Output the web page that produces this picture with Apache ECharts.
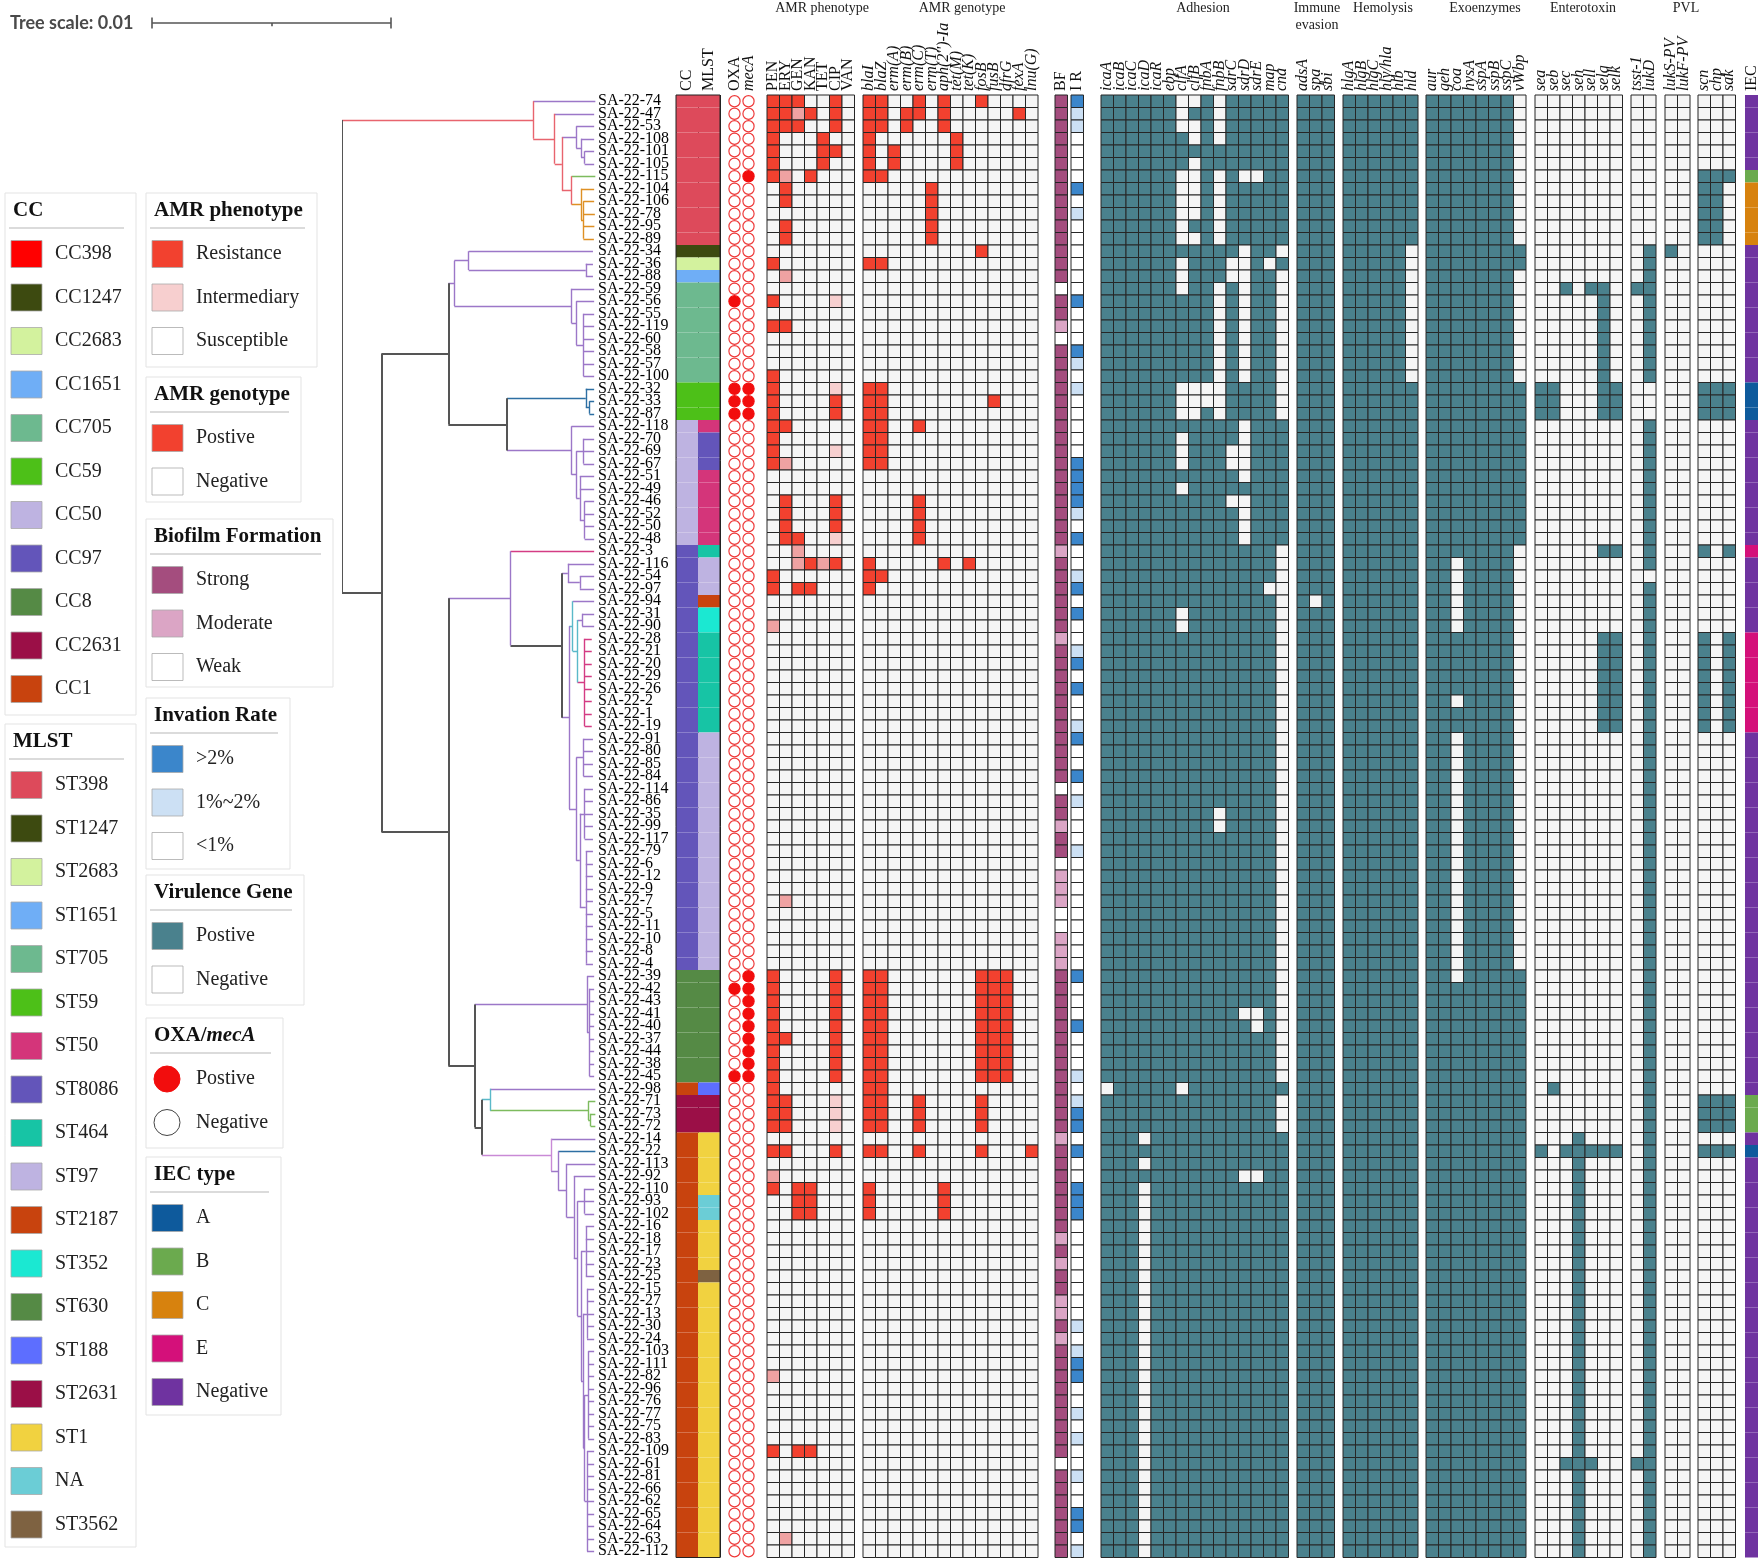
<!DOCTYPE html>
<html><head><meta charset="utf-8">
<script src="https://cdn.jsdelivr.net/npm/echarts@6.0.0/dist/echarts.min.js"></script>
<style>html,body{margin:0;padding:0;background:#fff}#c{width:1760px;height:1560px}</style>
</head><body><div id="c"></div><script>
// ---------------- DATA ----------------
const samples = [
'SA-22-74','SA-22-47','SA-22-53','SA-22-108','SA-22-101','SA-22-105','SA-22-115','SA-22-104','SA-22-106','SA-22-78',
'SA-22-95','SA-22-89','SA-22-34','SA-22-36','SA-22-88','SA-22-59','SA-22-56','SA-22-55','SA-22-119','SA-22-60',
'SA-22-58','SA-22-57','SA-22-100','SA-22-32','SA-22-33','SA-22-87','SA-22-118','SA-22-70','SA-22-69','SA-22-67',
'SA-22-51','SA-22-49','SA-22-46','SA-22-52','SA-22-50','SA-22-48','SA-22-3','SA-22-116','SA-22-54','SA-22-97',
'SA-22-94','SA-22-31','SA-22-90','SA-22-28','SA-22-21','SA-22-20','SA-22-29','SA-22-26','SA-22-2','SA-22-1',
'SA-22-19','SA-22-91','SA-22-80','SA-22-85','SA-22-84','SA-22-114','SA-22-86','SA-22-35','SA-22-99','SA-22-117',
'SA-22-79','SA-22-6','SA-22-12','SA-22-9','SA-22-7','SA-22-5','SA-22-11','SA-22-10','SA-22-8','SA-22-4',
'SA-22-39','SA-22-42','SA-22-43','SA-22-41','SA-22-40','SA-22-37','SA-22-44','SA-22-38','SA-22-45','SA-22-98',
'SA-22-71','SA-22-73','SA-22-72','SA-22-14','SA-22-22','SA-22-113','SA-22-92','SA-22-110','SA-22-93','SA-22-102',
'SA-22-16','SA-22-18','SA-22-17','SA-22-23','SA-22-25','SA-22-15','SA-22-27','SA-22-13','SA-22-30','SA-22-24',
'SA-22-103','SA-22-111','SA-22-82','SA-22-96','SA-22-76','SA-22-77','SA-22-75','SA-22-83','SA-22-109','SA-22-61',
'SA-22-81','SA-22-66','SA-22-62','SA-22-65','SA-22-64','SA-22-63','SA-22-112'];

const ccType = [
'CC398','CC398','CC398','CC398','CC398','CC398','CC398','CC398','CC398','CC398',
'CC398','CC398','CC1247','CC2683','CC1651','CC705','CC705','CC705','CC705','CC705',
'CC705','CC705','CC705','CC59','CC59','CC59','CC50','CC50','CC50','CC50',
'CC50','CC50','CC50','CC50','CC50','CC50','CC97','CC97','CC97','CC97',
'CC97','CC97','CC97','CC97','CC97','CC97','CC97','CC97','CC97','CC97',
'CC97','CC97','CC97','CC97','CC97','CC97','CC97','CC97','CC97','CC97',
'CC97','CC97','CC97','CC97','CC97','CC97','CC97','CC97','CC97','CC97',
'CC8','CC8','CC8','CC8','CC8','CC8','CC8','CC8','CC8','CC1',
'CC2631','CC2631','CC2631','CC1','CC1','CC1','CC1','CC1','CC1','CC1',
'CC1','CC1','CC1','CC1','CC1','CC1','CC1','CC1','CC1','CC1',
'CC1','CC1','CC1','CC1','CC1','CC1','CC1','CC1','CC1','CC1',
'CC1','CC1','CC1','CC1','CC1','CC1','CC1'];

const mlstType = [
'ST398','ST398','ST398','ST398','ST398','ST398','ST398','ST398','ST398','ST398',
'ST398','ST398','ST1247','ST2683','ST1651','ST705','ST705','ST705','ST705','ST705',
'ST705','ST705','ST705','ST59','ST59','ST59','ST50','ST8086','ST8086','ST8086',
'ST50','ST50','ST50','ST50','ST50','ST50','ST464','ST97','ST97','ST97',
'ST2187','ST352','ST352','ST464','ST464','ST464','ST464','ST464','ST464','ST464',
'ST464','ST97','ST97','ST97','ST97','ST97','ST97','ST97','ST97','ST97',
'ST97','ST97','ST97','ST97','ST97','ST97','ST97','ST97','ST97','ST97',
'ST630','ST630','ST630','ST630','ST630','ST630','ST630','ST630','ST630','ST188',
'ST2631','ST2631','ST2631','ST1','ST1','ST1','ST1','ST1','NA','NA',
'ST1','ST1','ST1','ST1','ST3562','ST1','ST1','ST1','ST1','ST1',
'ST1','ST1','ST1','ST1','ST1','ST1','ST1','ST1','ST1','ST1',
'ST1','ST1','ST1','ST1','ST1','ST1','ST1'];

const oxaPositive = ['SA-22-56','SA-22-32','SA-22-33','SA-22-87','SA-22-42','SA-22-45'];
const mecAPositive = ['SA-22-115','SA-22-32','SA-22-33','SA-22-87','SA-22-39','SA-22-42','SA-22-43','SA-22-41','SA-22-40','SA-22-37','SA-22-44','SA-22-38','SA-22-45'];

// AMR phenotype: 2 = resistance, 1 = intermediary, 0 = susceptible
const phenoCols = ['PEN','ERY','GEN','KAN','TET','CIP','VAN'];
const phenotype = [
'2220020','2212020','2220020','2000200','2000220','2000200','2102000','0200000','0200000','0000000',
'0200000','0200000','0000000','2000000','0100000','0000000','2000010','0000000','2200000','0000000',
'0000000','0000000','2000000','2000010','2000020','2000020','2200000','2000000','2000010','2100000',
'0000000','0000000','0200020','0200020','0200020','0220010','0010000','0012120','2000000','2022000',
'0000000','0000000','1000000','0000000','0000000','0000000','0000000','0000000','0000000','0000000',
'0000000','0000000','0000000','0000000','0000000','0000000','0000000','0000000','0000000','0000000',
'0000000','0000000','0000000','0000000','0100000','0000000','0000000','0000000','0000000','0000000',
'2000020','2000020','2000020','2000020','2000020','2200020','2000020','2000020','2000020','2000000',
'2200010','2200010','2200010','0000000','2200020','0000000','1000000','2022000','0022000','0022000',
'0000000','0000000','0000000','0000000','0000000','0000000','0000000','0000000','0000000','0000000',
'0000000','0000000','1000000','0000000','0000000','0000000','0000000','0000000','2022000','0000000',
'0000000','0000000','0000000','0000000','0000000','0100000','0000000'];

const genoCols = ['blaI','blaZ','erm(A)','erm(B)','erm(C)','erm(T)',"aph(2'')-Ia",'tet(M)','tet(K)','fosB','fusB','dfrG','fexA','lnu(G)'];
const genotype = [
'11001010010000','11011010000010','11010010000000','10000001000000','10100001000000','10100001000000','11000000000000','00000100000000','00000100000000','00000100000000',
'00000100000000','00000100000000','00000000010000','11000000000000','00000000000000','00000000000000','00000000000000','00000000000000','00000000000000','00000000000000',
'00000000000000','00000000000000','00000000000000','11000000000000','11000000001000','11000000000000','11001000000000','11000000000000','11000000000000','11000000000000',
'00000000000000','00000000000000','00001000000000','00001000000000','00001000000000','00001000000000','00000000000000','10000010100000','11000000000000','10000000000000',
'00000000000000','00000000000000','00000000000000','00000000000000','00000000000000','00000000000000','00000000000000','00000000000000','00000000000000','00000000000000',
'00000000000000','00000000000000','00000000000000','00000000000000','00000000000000','00000000000000','00000000000000','00000000000000','00000000000000','00000000000000',
'00000000000000','00000000000000','00000000000000','00000000000000','00000000000000','00000000000000','00000000000000','00000000000000','00000000000000','00000000000000',
'11000000011100','11000000011100','11000000011100','11000000011100','11000000011100','11000000011100','11000000011100','11000000011100','11000000011100','11000000000000',
'11001000010000','11001000010000','11001000010000','00000000000000','11001000010001','00000000000000','00000000000000','10000010000000','10000010000000','10000010000000',
'00000000000000','00000000000000','00000000000000','00000000000000','00000000000000','00000000000000','00000000000000','00000000000000','00000000000000','00000000000000',
'00000000000000','00000000000000','00000000000000','00000000000000','00000000000000','00000000000000','00000000000000','00000000000000','00000000000000','00000000000000',
'00000000000000','00000000000000','00000000000000','00000000000000','00000000000000','00000000000000','00000000000000'];

// Biofilm formation: 2 strong, 1 moderate, 0 weak
const biofilm = [
2,2,2,2,2,2,2,2,2,2, 2,2,2,2,2,0,2,2,1,0, 2,2,2,2,2,2,2,2,2,2, 2,2,2,2,2,2,1,2,2,2,
2,2,2,1,2,2,2,2,2,2, 2,2,2,2,2,0,2,2,1,2, 2,0,1,1,1,0,0,1,1,1, 2,2,2,2,2,2,2,2,2,2,
2,2,2,1,2,2,2,2,2,2, 2,1,2,1,2,2,1,1,2,1, 2,2,2,2,2,2,2,2,2,0, 2,2,2,2,2,2,2];
// Invasion rate: 2 >2%, 1 1%~2%, 0 <1%
const invasion = [
2,1,1,0,0,0,0,2,0,1, 0,0,0,0,0,0,2,0,0,0, 2,1,0,1,0,0,0,0,0,2, 2,2,2,1,0,2,0,0,1,2,
0,2,0,0,1,2,0,2,0,0, 1,2,0,0,2,0,1,0,0,0, 1,0,0,0,0,0,0,0,0,0, 2,0,0,0,2,0,0,0,1,0,
1,2,2,0,2,0,0,2,2,2, 0,0,0,0,0,0,0,0,1,0, 1,2,2,0,0,1,0,1,0,0, 1,0,0,2,2,0,1];

const adhCols = ['icaA','icaB','icaC','icaD','icaR','ebp','clfA','clfB','fnbA','fnbB','sdrC','sdrD','sdrE','map','cna'];
const adhesion = [
'111111001011111','111111011011111','111111001011111','111111101011111','111111111111111','111111101111111','111111001010011','111111001011111','111111001011111','111111001011111',
'111111011011111','111111001011111','111111111110110','111111011100101','111111011100110','111111011010110','111111111010110','111111111010110','111111111010110','111111111010110',
'111111111010110','111111111010110','111111111010110','111111000011110','111111000011110','111111001011110','111111111110111','111111011110111','111111011100111','111111011100111',
'111111111110111','111111011111111','111111111100111','111111111110111','111111111110111','111111111110111','111111111111110','111111111111110','111111111111110','111111111111100',
'111111111111110','111111011111110','111111011111110','111111111111110','111111111111110','111111111111110','111111111111110','111111111111110','111111111111110','111111111111110',
'111111111111110','111111111111110','111111111111110','111111111111110','111111111111110','111111111111110','111111111111110','111111111011110','111111111011110','111111111111110',
'111111111111110','111111111111110','111111111111110','111111111111110','111111111111110','111111111111110','111111111111110','111111111111110','111111111111110','111111111111110',
'111111111111110','111111111111110','111111111111110','111111111110010','111111111111010','111111111111110','111111111111110','111111111111110','111111111111110','011111011111111',
'111111111111110','111111111111110','111111111111110','111011111111111','111111111111111','111011111111111','111111111110011','111011111111111','111011111111111','111011111111111',
'111011111111111','111011111111111','111011111111111','111011111111111','111011111111111','111011111111111','111011111111111','111011111111111','111011111111111','111011111111111',
'111011111111111','111011111111111','111011111111111','111011111111111','111011111111111','111011111111111','111011111111111','111011111111111','111011111111111','111011111111111',
'111011111111111','111011111111111','111011111111111','111011111111111','111011111111111','111011111111111','111011111111111'];

const immCols = ['adsA','spa','sbi'];
const immune = [
'111','111','111','111','111','111','111','111','111','111','111','111','111','111','111','111','111','111','111','111',
'111','111','111','111','111','111','111','111','111','111','111','111','111','111','111','111','111','111','111','111',
'101','111','111','111','111','111','111','111','111','111','111','111','111','111','111','111','111','111','111','111',
'111','111','111','111','111','111','111','111','111','111','111','111','111','111','111','111','111','111','111','111',
'111','111','111','111','111','111','111','111','111','111','111','111','111','111','111','111','111','111','111','111',
'111','111','111','111','111','111','111','111','111','111','111','111','111','111','111','111','111'];

const hemCols = ['hlgA','hlgB','hlgC','hly/hla','hlb','hld'];
const hemolysis = [
'111111','111111','111111','111111','111111','111111','111111','111111','111111','111111',
'111111','111111','111110','111110','111110','111110','111110','111110','111110','111110',
'111110','111110','111110','111111','111111','111111','111111','111111','111111','111111',
'111111','111111','111111','111111','111111','111111','111111','111111','111111','111111',
'111111','111111','111111','111111','111111','111111','111111','111111','111111','111111',
'111111','111111','111111','111111','111111','111111','111111','111111','111111','111111',
'111111','111111','111111','111111','111111','111111','111111','111111','111111','111111',
'111111','111111','111111','111111','111111','111111','111111','111111','111111','111111',
'111111','111111','111111','111111','111111','111111','111111','111111','111111','111111',
'111111','111111','111111','111111','111111','111111','111111','111111','111111','111111',
'111111','111111','111111','111111','111111','111111','111111','111111','111111','111111',
'111111','111111','111111','111111','111111','111111','111111'];

const exoCols = ['aur','geh','coa','hysA','sspA','sspB','sspC','vWbp'];
const exoenzymes = [
'11111110','11111110','11111110','11111110','11111110','11111110','11111110','11111110','11111110','11111110',
'11111110','11111110','11111111','11111111','11111110','11111110','11111110','11111110','11111110','11111110',
'11111110','11111110','11111110','11111111','11111111','11111111','11111111','11111111','11111111','11111111',
'11111111','11111111','11111111','11111111','11111111','11111111','11111110','11011110','11011110','11011110',
'11011110','11011110','11011110','11111110','11111110','11111110','11111110','11111110','11011110','11111110',
'11111110','11011110','11011110','11011110','11011110','11011110','11011110','11011110','11011110','11011110',
'11011110','11011110','11011110','11011110','11011110','11011110','11011110','11011110','11011110','11011110',
'11011111','11111111','11111111','11111111','11111111','11111111','11111111','11111111','11111111','11111111',
'11111111','11111111','11111111','11111111','11111111','11111111','11111111','11111111','11111111','11111111',
'11111111','11111111','11111111','11111111','11111111','11111111','11111111','11111111','11111111','11111111',
'11111111','11111111','11111111','11111111','11111111','11111111','11111111','11111111','11111111','11111111',
'11111111','11111111','11111111','11111111','11111111','11111111','11111111'];

const entCols = ['sea','seb','sec','seh','sell','selq','selk'];
const enterotoxin = [
'0000000','0000000','0000000','0000000','0000000','0000000','0000000','0000000','0000000','0000000',
'0000000','0000000','0000000','0000000','0000000','0010110','0000010','0000010','0000010','0000010',
'0000010','0000010','0000010','1100011','1100011','1100011','0000000','0000000','0000000','0000000',
'0000000','0000000','0000000','0000000','0000000','0000000','0000011','0000000','0000000','0000000',
'0000000','0000000','0000000','0000011','0000011','0000011','0000011','0000011','0000011','0000011',
'0000011','0000000','0000000','0000000','0000000','0000000','0000000','0000000','0000000','0000000',
'0000000','0000000','0000000','0000000','0000000','0000000','0000000','0000000','0000000','0000000',
'0000000','0000000','0000000','0000000','0000000','0000000','0000000','0000000','0000000','0100000',
'0000000','0000000','0000000','0001000','1011111','0001000','0001000','0001000','0001000','0001000',
'0001000','0001000','0001000','0001000','0001000','0001000','0001000','0001000','0001000','0001000',
'0001000','0001000','0001000','0001000','0001000','0001000','0001000','0001000','0001000','0011100',
'0001000','0001000','0001000','0001000','0001000','0001000','0001000'];

const tlCols = ['tsst-1','lukD'];
const toxinLuk = [
'00','00','00','00','00','00','00','00','00','00', '00','00','01','01','01','11','01','01','01','01',
'01','01','01','00','00','00','01','01','01','01', '01','01','01','01','01','01','01','01','00','01',
'01','01','01','01','01','01','01','01','01','01', '01','01','01','01','01','01','01','01','01','01',
'01','01','01','01','01','01','01','01','01','01', '01','01','01','01','01','01','01','01','01','01',
'01','01','01','01','01','01','01','01','01','01', '01','01','01','01','01','01','01','01','01','01',
'01','01','01','01','01','01','01','01','01','11', '01','01','01','01','01','01','01'];

const pvlCols = ['lukS-PV','lukF-PV'];
const pvl = [
'00','00','00','00','00','00','00','00','00','00', '00','00','10','00','00','00','00','00','00','00',
'00','00','00','00','00','00','00','00','00','00', '00','00','00','00','00','00','00','00','00','00',
'00','00','00','00','00','00','00','00','00','00', '00','00','00','00','00','00','00','00','00','00',
'00','00','00','00','00','00','00','00','00','00', '00','00','00','00','00','00','00','00','00','00',
'00','00','00','00','00','00','00','00','00','00', '00','00','00','00','00','00','00','00','00','00',
'00','00','00','00','00','00','00','00','00','00', '00','00','00','00','00','00','00'];

const iecCols = ['scn','chp','sak'];
const iecGenes = [
'000','000','000','000','000','000','111','110','110','110', '110','110','000','000','000','000','000','000','000','000',
'000','000','000','111','111','111','000','000','000','000', '000','000','000','000','000','000','101','000','000','000',
'000','000','000','101','101','101','101','101','101','101', '101','000','000','000','000','000','000','000','000','000',
'000','000','000','000','000','000','000','000','000','000', '000','000','000','000','000','000','000','000','000','000',
'111','111','111','000','111','000','000','000','000','000', '000','000','000','000','000','000','000','000','000','000',
'000','000','000','000','000','000','000','000','000','000', '000','000','000','000','000','000','000'];

// IEC type: A, B, C, E, N (Negative)
const iecType = [
'N','N','N','N','N','N','B','C','C','C', 'C','C','N','N','N','N','N','N','N','N',
'N','N','N','A','A','A','N','N','N','N', 'N','N','N','N','N','N','E','N','N','N',
'N','N','N','E','E','E','E','E','E','E', 'E','N','N','N','N','N','N','N','N','N',
'N','N','N','N','N','N','N','N','N','N', 'N','N','N','N','N','N','N','N','N','N',
'B','B','B','N','A','N','N','N','N','N', 'N','N','N','N','N','N','N','N','N','N',
'N','N','N','N','N','N','N','N','N','N', 'N','N','N','N','N','N','N'];

// phylogenetic tree: [name, branch length (x1e-4 substitutions/site), children]
const treeScale = 0.01;
const treeUnit = 1e-4;
const tree = ['root', 0, [
 ['n_A', 80, [
  ['SA-22-74', 26],
  ['n_b', 9, [
   ['SA-22-47', 16.5],
   ['n_c', 3, [
    ['n_d', 6, [
     ['SA-22-53', 7.5],
     ['n_d2', 2, [['SA-22-108', 5.5], ['n_d3', 1.5, [['SA-22-101', 4], ['SA-22-105', 4]]]]]
    ]],
    ['n_e', 4, [
     ['SA-22-115', 10],
     ['n_f', 4, [['SA-22-104', 5.5], ['n_f2', 1, [['SA-22-106', 4.5], ['SA-22-78', 4.8], ['SA-22-95', 4.6], ['SA-22-89', 4.4]]]]]
    ]]
   ]]
  ]]
 ]],
 ['n_B0', 16.5, [
  ['n_M', 28, [
   ['n_M1', 2.5, [
    ['n_M1a', 6, [['SA-22-34', 52], ['n_M1a2', 49, [['SA-22-36', 3], ['SA-22-88', 3]]]]],
    ['n_M1b', 49, [
     ['SA-22-59', 9.5],
     ['n_M1c', 2, [['SA-22-56', 7.5], ['n_M1d', 3, [['SA-22-55', 4.5], ['SA-22-119', 4.5], ['SA-22-60', 4.5], ['SA-22-58', 4.5], ['SA-22-57', 4.5], ['SA-22-100', 4.5]]]]]
    ]]
   ]],
   ['n_M2', 24.5, [
    ['n_blue', 33, [['SA-22-32', 3.5], ['n_blue2', 1.5, [['SA-22-33', 2], ['SA-22-87', 2]]]]],
    ['n_P', 27, [
     ['SA-22-118', 9.5],
     ['n_P2', 2, [
      ['n_P3', 3, [['SA-22-70', 4.5], ['SA-22-69', 4.5], ['SA-22-67', 4.5]]],
      ['n_P4', 1.5, [['SA-22-51', 6], ['SA-22-49', 6], ['n_P5', 2, [['SA-22-46', 4], ['SA-22-52', 4], ['SA-22-50', 4], ['SA-22-48', 4]]]]]
     ]]
    ]]
   ]]
  ]],
  ['n_L', 28, [
   ['n_L1', 26, [
    ['SA-22-3', 35],
    ['n_L1b', 21.5, [
     ['n_L1c', 2.5, [['SA-22-116', 11], ['n_L1d', 5, [['SA-22-54', 6], ['SA-22-97', 6]]]]],
     ['n_L1e', 3, [
      ['n_Cy', 1.5, [
       ['SA-22-94', 9],
       ['n_Cy2', 2, [
        ['n_Cy3', 2, [['SA-22-31', 5], ['SA-22-90', 5]]],
        ['n_Pk', 3, [['SA-22-28', 3], ['SA-22-21', 3], ['SA-22-20', 3], ['SA-22-29', 3], ['SA-22-26', 3], ['SA-22-2', 3], ['SA-22-1', 3], ['SA-22-19', 3]]]
       ]]
      ]],
      ['n_Q', 3, [
       ['n_Q1', 3, [['SA-22-91', 4], ['SA-22-80', 4], ['SA-22-85', 4], ['SA-22-84', 4]]],
       ['n_Q2', 1.5, [
        ['n_Q3', 2, [['SA-22-114', 3.5], ['SA-22-86', 3.5], ['SA-22-35', 3.5], ['SA-22-99', 3.5], ['SA-22-117', 3.5]]],
        ['n_Q4', 2.5, [['SA-22-79', 3], ['SA-22-6', 3], ['SA-22-12', 3], ['SA-22-9', 3], ['SA-22-7', 3], ['SA-22-5', 3], ['SA-22-11', 3], ['SA-22-10', 3], ['SA-22-8', 3], ['SA-22-4', 3]]]
       ]]
      ]]
     ]]
    ]]
   ]],
   ['n_L2', 11, [
    ['n_C8', 47, [['SA-22-39', 3], ['n_C8b', 1, [['SA-22-42', 2], ['SA-22-43', 2], ['SA-22-41', 2], ['SA-22-40', 2], ['SA-22-37', 2], ['SA-22-44', 2], ['SA-22-38', 2], ['SA-22-45', 2]]]]],
    ['n_L3', 3, [
     ['n_L4', 3.5, [['SA-22-98', 44], ['n_G', 41, [['SA-22-71', 3], ['n_G2', 1, [['SA-22-73', 2], ['SA-22-72', 2]]]]]]],
     ['n_L5', 29, [
      ['SA-22-14', 18.5],
      ['n_L6', 3, [
       ['SA-22-22', 15.5],
       ['n_L7', 3.5, [
        ['SA-22-113', 12],
        ['n_L8', 3, [
         ['SA-22-92', 9],
         ['n_L9', 1.5, [
          ['n_L10', 3, [['SA-22-110', 4], ['SA-22-93', 4], ['SA-22-102', 4]]],
          ['n_L11', 1.5, [
           ['n_L12', 2, [['SA-22-16', 3.5], ['SA-22-18', 3.5], ['SA-22-17', 3.5], ['SA-22-23', 3.5], ['SA-22-25', 3.5]]],
           ['n_L13', 1, [
            ['n_L14', 1.5, [['SA-22-15', 3], ['SA-22-27', 3], ['SA-22-13', 3], ['SA-22-30', 3], ['SA-22-24', 3]]],
            ['n_L15', 0.5, [
             ['n_L16', 1.5, [['SA-22-103', 2.5], ['SA-22-111', 2.5], ['SA-22-82', 2.5], ['SA-22-96', 2.5], ['SA-22-76', 2.5], ['SA-22-77', 2.5], ['SA-22-75', 2.5], ['SA-22-83', 2.5]]],
             ['n_L17', 1, [['SA-22-109', 3], ['SA-22-61', 3], ['SA-22-81', 3], ['SA-22-66', 3], ['SA-22-62', 3], ['SA-22-65', 3], ['SA-22-64', 3], ['SA-22-63', 3], ['SA-22-112', 3]]]
            ]]
           ]]
          ]]
         ]]
        ]]
       ]]
      ]]
     ]]
    ]]
   ]]
  ]]
 ]]
]];

// legend labels
const ccLegend = ['CC398','CC1247','CC2683','CC1651','CC705','CC59','CC50','CC97','CC8','CC2631','CC1'];
const mlstLegend = ['ST398','ST1247','ST2683','ST1651','ST705','ST59','ST50','ST8086','ST464','ST97','ST2187','ST352','ST630','ST188','ST2631','ST1','NA','ST3562'];
const phenoLegend = ['Resistance','Intermediary','Susceptible'];
const genoLegend = ['Postive','Negative'];
const bfLegend = ['Strong','Moderate','Weak'];
const irLegend = ['>2%','1%~2%','<1%'];
const virLegend = ['Postive','Negative'];
const oxaLegend = ['Postive','Negative'];
const iecLegend = ['A','B','C','E','Negative'];

// ---------------- STYLE ----------------
const SERIF = 'Liberation Serif';
const CC_COLORS = {CC398:'#DD4A5B',CC1247:'#3D4A10',CC2683:'#D3F29E',CC1651:'#6FAEF6',CC705:'#6DB98F',CC59:'#4DC018',CC50:'#BEB3E1',CC97:'#6355BA',CC8:'#558A45',CC2631:'#9B0F47',CC1:'#C8430E'};
const CC_LEGEND_COLORS = Object.assign({}, CC_COLORS, {CC398:'#FF0000'});
const ST_COLORS = {ST398:'#DD4A5B',ST1247:'#3D4A10',ST2683:'#D3F29E',ST1651:'#6FAEF6',ST705:'#6DB98F',ST59:'#4DC018',ST50:'#D4357A',ST8086:'#6355BA',ST464:'#17C4A5',ST97:'#BEB3E1',ST2187:'#C8430E',ST352:'#1BE8D2',ST630:'#558A45',ST188:'#5D6EFF',ST2631:'#9B0F47',ST1:'#F1D240',NA:'#6BCDD6',ST3562:'#7E6241'};
const RES = '#F2412F', INTER = '#EFA2A2', INTER_LIGHT = '#F7CFCF', NEG = '#F5F5F5';
const TEAL = '#4A818D';
const BF_COLORS = ['#FFFFFF','#DBA5C5','#A44D7E'];
const IR_COLORS = ['#FFFFFF','#CCE0F4','#3B86CB'];
const IEC_COLORS = {A:'#0E5A9C',B:'#6BAA4E',C:'#D7820E',E:'#D4107A',N:'#6F33A0'};
const IEC_LEGEND_COLORS = [IEC_COLORS.A, IEC_COLORS.B, IEC_COLORS.C, IEC_COLORS.E, IEC_COLORS.N];
const CELL_STROKE = '#262626';
const T_RED='#E8646E', T_PURPLE='#9C77C8', T_GRAY='#555555', T_BLUE='#2D6FA3', T_PINK='#D43C84', T_CYAN='#5AB9C9', T_GREEN='#7DBB5E', T_ORANGE='#DE9024', T_ORCHID='#C98AD6';
const branchColors = {
 n_A:T_RED,'SA-22-74':T_PURPLE,'SA-22-47':T_PURPLE,n_d:T_PURPLE,'SA-22-115':T_GREEN,n_f:T_ORANGE,
 n_B0:T_GRAY,n_M:T_GRAY,n_M1:T_PURPLE,n_M2:T_GRAY,n_blue:T_BLUE,n_P:T_PURPLE,
 n_L:T_GRAY,n_L1:T_PURPLE,'SA-22-3':T_PINK,n_L1b:T_GRAY,n_L1c:T_PURPLE,n_L1e:T_PURPLE,n_Cy:T_CYAN,'SA-22-94':T_PURPLE,n_Cy3:T_PURPLE,n_Pk:T_PINK,n_Q:T_PURPLE,
 n_L2:T_GRAY,n_C8:T_PURPLE,n_L3:T_GRAY,n_L4:T_CYAN,'SA-22-98':T_PURPLE,n_G:T_GREEN,n_L5:T_ORCHID,'SA-22-14':T_PURPLE,n_L6:T_PURPLE,'SA-22-22':T_BLUE
};

// ---------------- BUILD ----------------
const N = samples.length;
const ROW_TOP = 95, ROW_H = 12.5, GRID_H = ROW_H * N, CELL = 12.5;
const grids = [], xAxes = [], yAxes = [], series = [], graphics = [];
const HEAD_ITALIC = {'mecA':true};

function addGrid(left, width, cols, opt) {
  opt = opt || {};
  const gi = grids.length;
  grids.push(Object.assign({left: left, top: ROW_TOP, width: width, height: GRID_H}, opt.grid || {}));
  xAxes.push({type:'category', gridIndex:gi, position:'top', data: cols, boundaryGap:true,
    axisLine:{show:false}, axisTick:{show:false}, axisLabel:{show:false},
    splitLine: opt.split ? {show:true, interval:0, lineStyle:{color:'#222', width:1}} : {show:false}});
  yAxes.push(Object.assign({type:'category', gridIndex:gi, data:samples, inverse:true, show:false}, opt.yAxis || {}));
  // rotated column header text, centred on each category of the axis
  const cw = width / cols.length;
  cols.forEach((c, i) => {
    const it = opt.italic || HEAD_ITALIC[c];
    graphics.push({type:'text', x: left + (i + 0.5) * cw, y: ROW_TOP - 4, rotation: Math.PI / 2, silent:true,
      style:{text:c, font:(it ? 'italic ' : '') + '16px "Liberation Serif"', fill:'#111',
        textAlign:'left', align:'left', textVerticalAlign:'middle', verticalAlign:'middle'}});
  });
  return gi;
}
function addCells(gi, cells, stroke) {
  const data = cells.map(d => [d[0], d[1]]);
  const colors = cells.map(d => d[2]);
  series.push({type:'custom', xAxisIndex:gi, yAxisIndex:gi, data:data, silent:true, animation:false,
    encode:{x:0, y:1}, clip:false,
    renderItem: function (params, api) {
      const p = api.coord([api.value(0), api.value(1)]);
      const s = api.size([1, 1]);
      return {type:'rect', shape:{x:p[0]-s[0]/2, y:p[1]-s[1]/2, width:s[0], height:s[1]},
        style:{fill: colors[params.dataIndex], stroke: stroke || null, lineWidth: stroke ? 1 : 0}};
    }});
}
function matrixBlock(left, cols, rows, italic, colorFn) {
  const gi = addGrid(left, cols.length * CELL, cols, {italic: italic});
  const cells = [];
  rows.forEach((str, r) => { for (let c = 0; c < str.length; c++) cells.push([c, r, colorFn(+str[c], c)]); });
  addCells(gi, cells, CELL_STROKE);
  return gi;
}

// CC / MLST columns with sample labels
const ccGi = addGrid(676, 44, ['CC','MLST'], {split:true, grid:{show:true, borderColor:'#222', borderWidth:1, backgroundColor:'transparent', z:5},
  yAxis:{show:true, axisLine:{show:false}, axisTick:{show:false},
    axisLabel:{interval:0, align:'left', margin:78, fontFamily:SERIF, fontSize:16, color:'#000'}}});
addCells(ccGi, samples.map((s, r) => [0, r, CC_COLORS[ccType[r]]]).concat(samples.map((s, r) => [1, r, ST_COLORS[mlstType[r]]])), null);

// OXA / mecA circles
const oxGi = addGrid(727.5, 28, ['OXA','mecA']);
const circ = [];
samples.forEach((s, r) => { circ.push([0, r, oxaPositive.includes(s) ? 1 : 0]); circ.push([1, r, mecAPositive.includes(s) ? 1 : 0]); });
series.push({type:'custom', xAxisIndex:oxGi, yAxisIndex:oxGi, data:circ, silent:true, animation:false, encode:{x:0,y:1},
  renderItem: function (params, api) {
    const p = api.coord([api.value(0), api.value(1)]);
    const pos = api.value(2) === 1;
    return {type:'circle', shape:{cx:p[0], cy:p[1], r:5.6}, style:{fill: pos ? '#F20D0D' : '#FFFFFF', stroke: pos ? '#F20D0D' : '#EE3A3A', lineWidth:1.2}};
  }});

// AMR phenotype / genotype
matrixBlock(767, phenoCols, phenotype, false, (v, c) => v === 2 ? RES : v === 1 ? (c === 5 ? INTER_LIGHT : INTER) : NEG);
matrixBlock(863, genoCols, genotype, true, v => v ? RES : NEG);

// BF and IR
const bfGi = addGrid(1055, CELL, ['BF']);
addCells(bfGi, biofilm.map((v, r) => [0, r, BF_COLORS[v]]), CELL_STROKE);
const irGi = addGrid(1071, CELL, ['I R']);
addCells(irGi, invasion.map((v, r) => [0, r, IR_COLORS[v]]), CELL_STROKE);

// virulence blocks
const vir = v => v ? TEAL : NEG;
matrixBlock(1101, adhCols, adhesion, true, vir);
matrixBlock(1297, immCols, immune, true, vir);
matrixBlock(1343, hemCols, hemolysis, true, vir);
matrixBlock(1426, exoCols, exoenzymes, true, vir);
matrixBlock(1535, entCols, enterotoxin, true, vir);
matrixBlock(1631, tlCols, toxinLuk, true, vir);
matrixBlock(1665, pvlCols, pvl, true, vir);
matrixBlock(1698, iecCols, iecGenes, true, vir);

// IEC type strip
const iecGi = addGrid(1745, 13, ['IEC']);
addCells(iecGi, iecType.map((v, r) => [0, r, IEC_COLORS[v]]), null);

// Tree
const treeGi = grids.length;
const TREE_MAX = 0.011;
grids.push({left:342, top:ROW_TOP, width: 239 * TREE_MAX / treeScale, height:GRID_H});
xAxes.push({type:'value', gridIndex:treeGi, min:0, max:TREE_MAX, show:false});
yAxes.push({type:'value', gridIndex:treeGi, min:-0.5, max:N-0.5, inverse:true, show:false});
const segs = [];
function layoutTree(node, parentDepth, parentColor) {
  const name = node[0], len = node[1], kids = node[2];
  const depth = parentDepth + len * treeUnit;
  const color = branchColors[name] || parentColor;
  let y;
  if (!kids) { y = samples.indexOf(name); }
  else {
    const ys = kids.map(k => layoutTree(k, depth, color));
    y = (ys[0] + ys[ys.length - 1]) / 2;
    segs.push({coords:[[depth, ys[0]], [depth, ys[ys.length - 1]]], color:color});
  }
  if (len > 0) segs.push({coords:[[parentDepth, y], [depth, y]], color:color});
  return y;
}
layoutTree(tree, 0, T_GRAY);
series.push({type:'lines', coordinateSystem:'cartesian2d', xAxisIndex:treeGi, yAxisIndex:treeGi, silent:true, animation:false,
  data: segs.map(s => ({coords:s.coords, lineStyle:{color:s.color, width: s.color === T_GRAY ? 2 : 1.4, opacity:1}}))});

// Tree scale bar
const scGi = grids.length;
grids.push({left:152, top:15, width:239, height:16});
xAxes.push({type:'value', gridIndex:scGi, min:0, max:treeScale, show:false});
yAxes.push({type:'value', gridIndex:scGi, min:0, max:1, show:false});
series.push({type:'lines', coordinateSystem:'cartesian2d', xAxisIndex:scGi, yAxisIndex:scGi, silent:true, animation:false,
  lineStyle:{color:'#555', width:1.6, opacity:1},
  data:[{coords:[[0,0.5],[treeScale,0.5]]},{coords:[[0,0.15],[0,0.85]]},{coords:[[treeScale,0.15],[treeScale,0.85]]},{coords:[[treeScale/2,0.5],[treeScale/2,0.3]]}]});
graphics.push({type:'text', x:10, y:23, silent:true, style:{text:'Tree scale: ' + treeScale, font:'bold 18px Lato', fill:'#4a4a4a', textVerticalAlign:'middle', verticalAlign:'middle'}});

// Group headers
function headText(x, y, t) {
  graphics.push({type:'text', x:x, y:y, silent:true, style:{text:t, font:'14px "Liberation Serif"', fill:'#222', textAlign:'center', align:'center', textVerticalAlign:'middle', verticalAlign:'middle'}});
}
headText(822, 8, 'AMR phenotype');
headText(962, 8, 'AMR genotype');
headText(1203, 8, 'Adhesion');
headText(1317, 8, 'Immune');
headText(1317, 25, 'evasion');
headText(1383, 8, 'Hemolysis');
headText(1485, 8, 'Exoenzymes');
headText(1583, 8, 'Enterotoxin');
headText(1686, 8, 'PVL');

// Legends
function legendBox(x, y, w, h, title, labels, colors, kind) {
  graphics.push({type:'rect', silent:true, shape:{x:x, y:y, width:w, height:h}, style:{fill:'#fff', stroke:'#e3e3e3', lineWidth:1}});
  const t = {type:'text', x:x+8, y:y+18, silent:true, style:{font:'bold 21px "Liberation Serif"', fill:'#111', textVerticalAlign:'middle', verticalAlign:'middle'}};
  if (typeof title === 'string') t.style.text = title;
  else { t.style.text = title.text; t.style.rich = title.rich; }
  graphics.push(t);
  graphics.push({type:'line', silent:true, shape:{x1:x+4, y1:y+35, x2:x+w-12, y2:y+35}, style:{stroke:'#cfcfcf', lineWidth:1.5}});
  labels.forEach((lab, i) => {
    const cy = y + 61 + i * 43.5;
    if (kind === 'circle') {
      graphics.push({type:'circle', silent:true, shape:{cx:x+21, cy:cy, r:13}, style:{fill: colors[i], stroke: i === 0 ? colors[i] : '#444', lineWidth:1}});
    } else {
      graphics.push({type:'rect', silent:true, shape:{x:x+6, y:cy-13.5, width:31, height:27}, style:{fill: colors[i], stroke:'#aaa', lineWidth:0.8}});
    }
    graphics.push({type:'text', x:x+50, y:cy, silent:true, style:{text:lab, font:'20px "Liberation Serif"', fill:'#222', textVerticalAlign:'middle', verticalAlign:'middle'}});
  });
}
legendBox(5, 193, 131, 522, 'CC', ccLegend, ccLegend.map(k => CC_LEGEND_COLORS[k]));
legendBox(5, 724, 131, 823, 'MLST', mlstLegend, mlstLegend.map(k => ST_COLORS[k]));
legendBox(146, 193, 171, 174, 'AMR phenotype', phenoLegend, [RES, INTER_LIGHT, '#FFFFFF']);
legendBox(146, 377, 155, 125, 'AMR genotype', genoLegend, [RES, '#FFFFFF']);
legendBox(146, 519, 187, 168, 'Biofilm Formation', bfLegend, [BF_COLORS[2], BF_COLORS[1], BF_COLORS[0]]);
legendBox(146, 698, 144, 171, 'Invation Rate', irLegend, [IR_COLORS[2], IR_COLORS[1], IR_COLORS[0]]);
legendBox(146, 875, 158, 130, 'Virulence Gene', virLegend, [TEAL, '#FFFFFF']);
legendBox(146, 1018, 137, 130, {text:'{b|OXA/}{bi|mecA}', rich:{b:{font:'bold 21px "Liberation Serif"', fill:'#111'}, bi:{font:'italic bold 21px "Liberation Serif"', fill:'#111'}}}, oxaLegend, ['#F20D0D', '#FFFFFF'], 'circle');
legendBox(146, 1157, 135, 258, 'IEC type', iecLegend, IEC_LEGEND_COLORS);

const chart = echarts.init(document.getElementById('c'), null, {renderer:'canvas', width:1760, height:1560});
chart.setOption({
  animation:false, backgroundColor:'#ffffff',
  grid: grids, xAxis: xAxes, yAxis: yAxes, series: series, graphic: graphics
});
</script></body></html>
